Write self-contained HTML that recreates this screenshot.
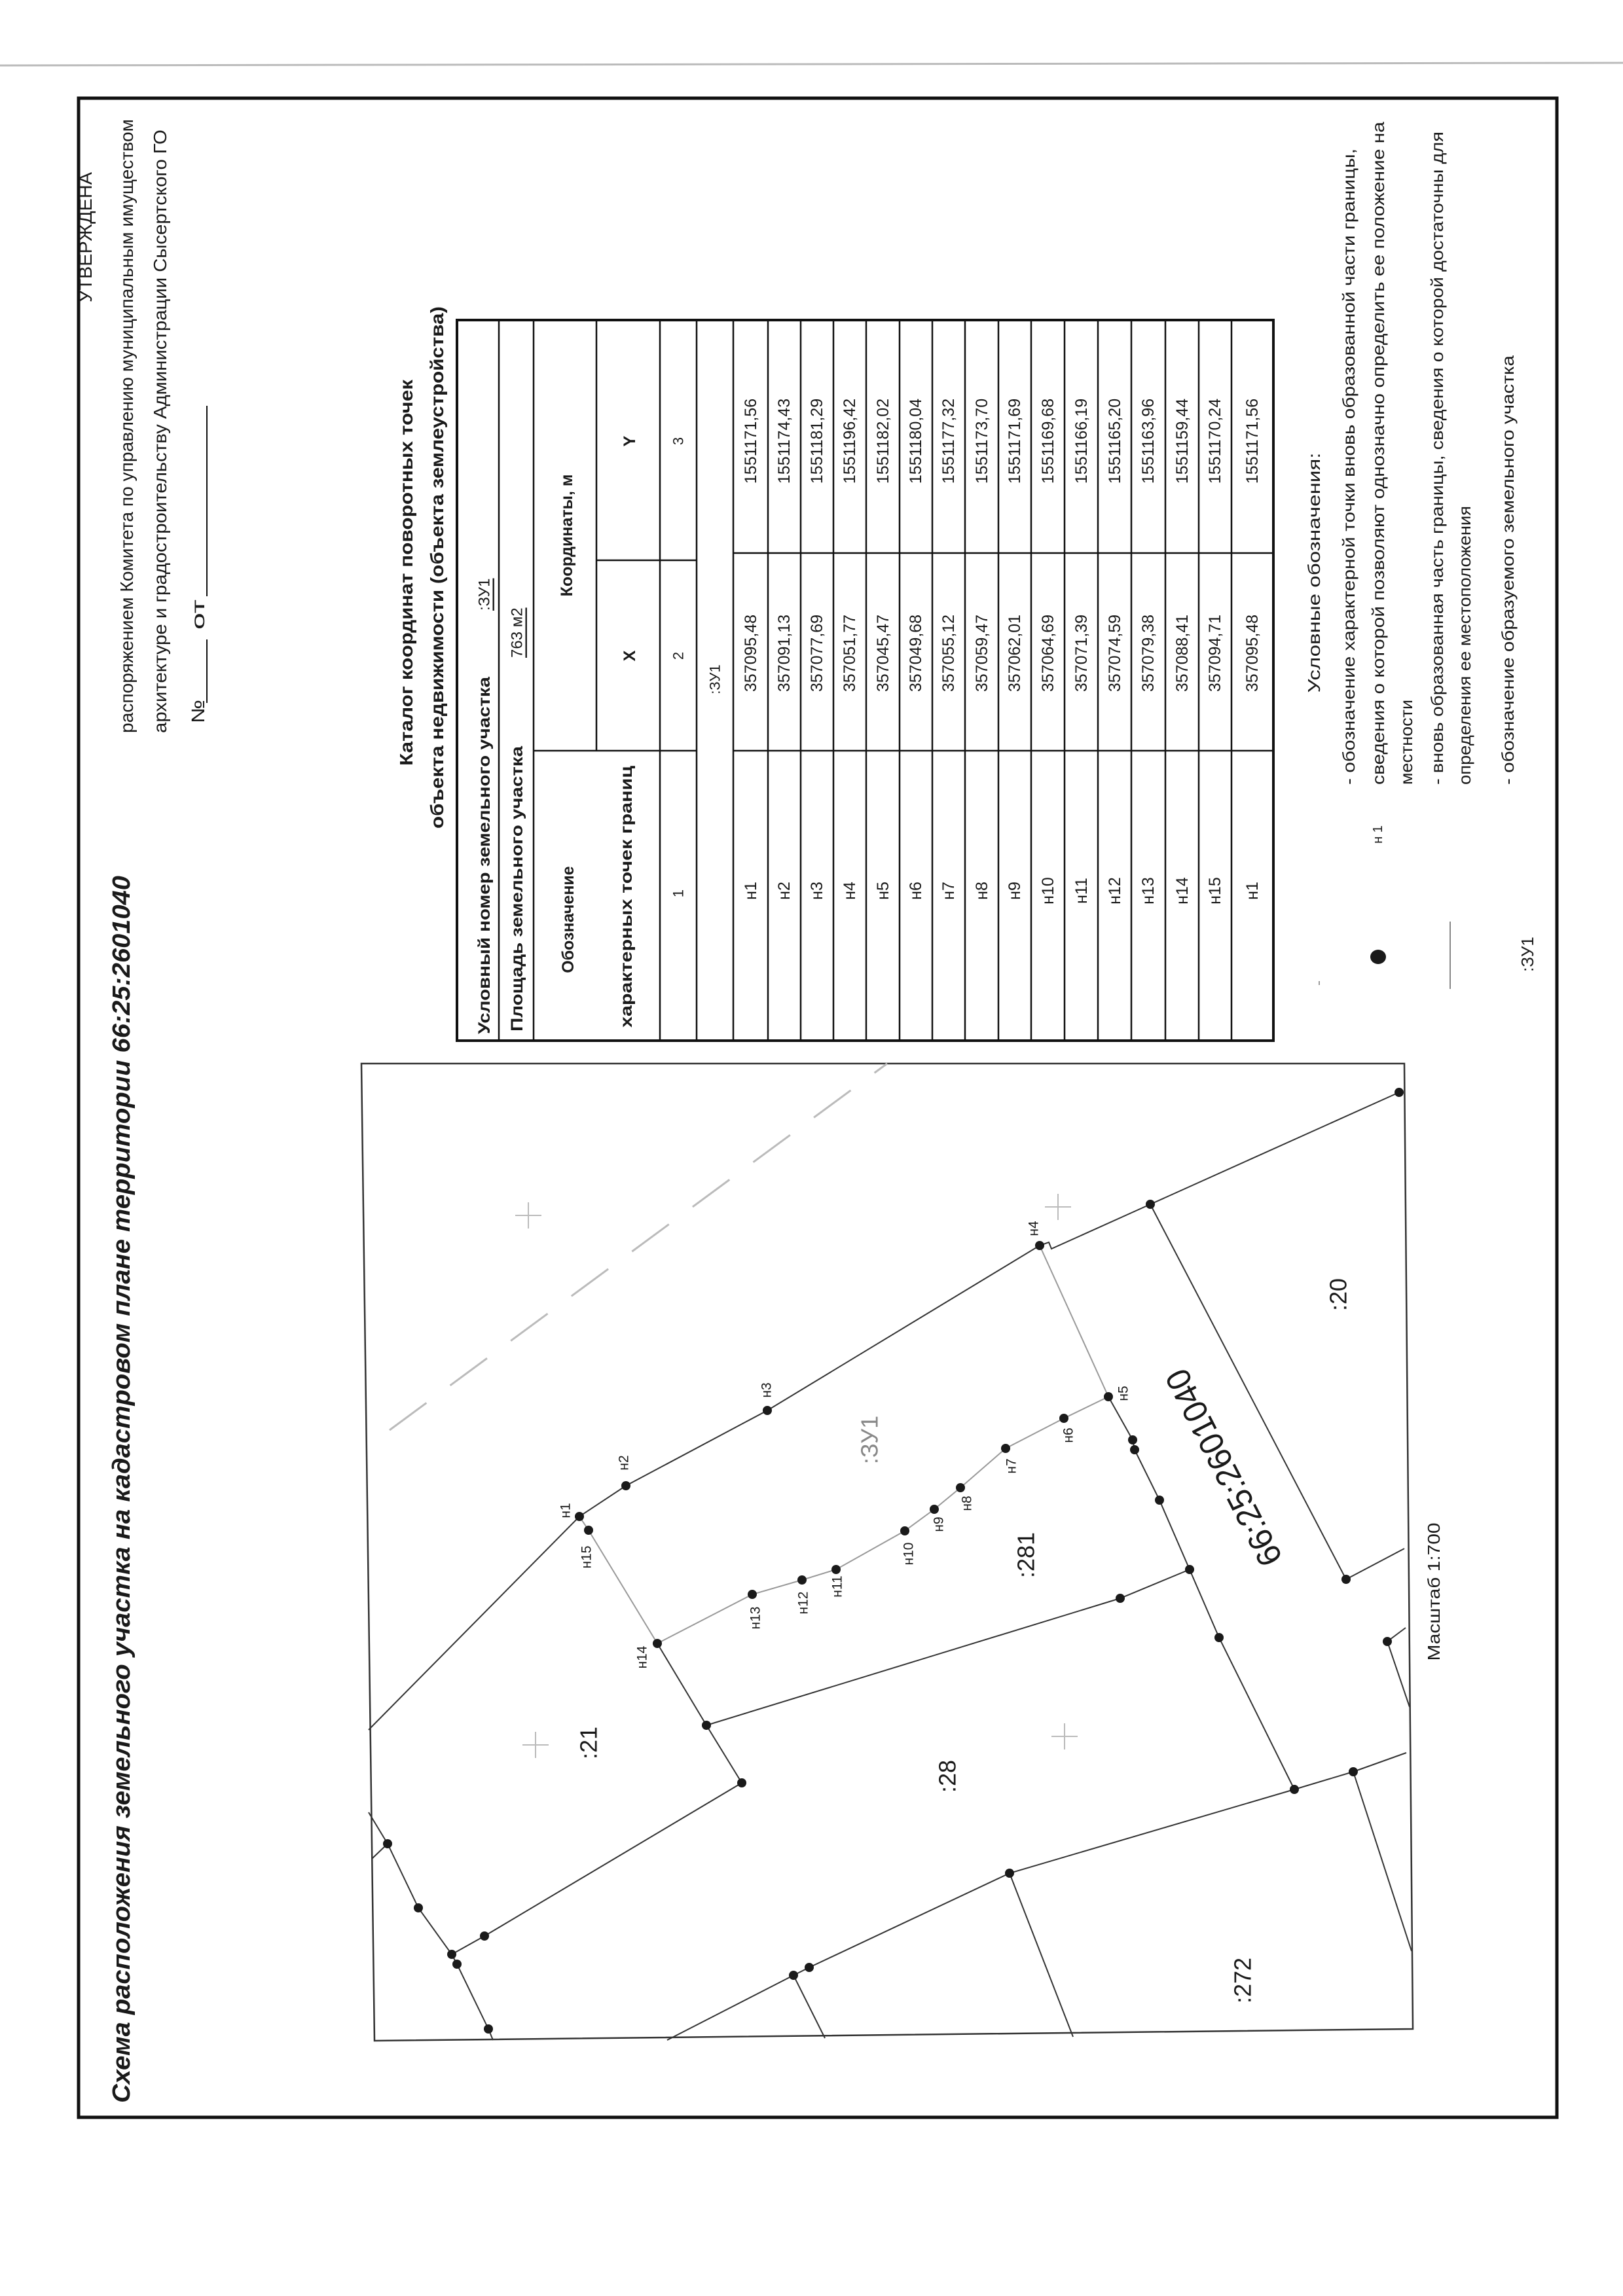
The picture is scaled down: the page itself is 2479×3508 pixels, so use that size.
<!DOCTYPE html>
<html><head><meta charset="utf-8"><style>
html,body{margin:0;padding:0;background:#fff}
svg{display:block}
text{font-family:"Liberation Sans",sans-serif;fill:#1a1a1a}
</style></head><body>
<svg width="2479" height="3508" viewBox="0 0 2479 3508" xmlns="http://www.w3.org/2000/svg">
<rect width="2479" height="3508" fill="#fff"/>
<line x1="0" y1="100" x2="2479" y2="96" stroke="#bbb" stroke-width="3"/>
<rect x="120" y="150" width="2258" height="3085" fill="none" stroke="#111" stroke-width="5"/>

<g font-size="28" text-anchor="start">
<text transform="translate(140,462) rotate(-90)" textLength="199" lengthAdjust="spacingAndGlyphs">УТВЕРЖДЕНА</text>
<text transform="translate(203,1120) rotate(-90)" textLength="938" lengthAdjust="spacingAndGlyphs">распоряжением Комитета по управлению муниципальным имуществом</text>
<text transform="translate(254,1120) rotate(-90)" textLength="922" lengthAdjust="spacingAndGlyphs">архитектуре и градостроительству Администрации Сысертского ГО</text>
<text transform="translate(312,1105) rotate(-90)" textLength="36" lengthAdjust="spacingAndGlyphs">№</text>
<text transform="translate(312,962) rotate(-90)" textLength="46" lengthAdjust="spacingAndGlyphs">от</text>
</g>
<line x1="316" y1="1074" x2="316" y2="977" stroke="#111" stroke-width="2"/>
<line x1="316" y1="911" x2="316" y2="620" stroke="#111" stroke-width="2"/>

<text transform="translate(198,3213) rotate(-90)" font-size="38" font-weight="bold" font-style="italic" textLength="1875" lengthAdjust="spacingAndGlyphs">Схема расположения земельного участка на кадастровом плане территории 66:25:2601040</text>

<g font-size="28" font-weight="bold">
<text transform="translate(630,1170) rotate(-90)" textLength="590" lengthAdjust="spacingAndGlyphs">Каталог координат поворотных точек</text>
<text transform="translate(677,1266) rotate(-90)" textLength="798" lengthAdjust="spacingAndGlyphs">объекта недвижимости (объекта землеустройства)</text>
</g>

<g stroke="#111" fill="none">
<rect x="698" y="489" width="1247" height="1101" stroke-width="4"/>
<g stroke-width="2.5">
<line x1="762" y1="489" x2="762" y2="1590"/>
<line x1="815" y1="489" x2="815" y2="1590"/>
<line x1="1008" y1="489" x2="1008" y2="1590"/>
<line x1="1064" y1="489" x2="1064" y2="1590"/>
<line x1="1120" y1="489" x2="1120" y2="1590"/>
<line x1="911" y1="489" x2="911" y2="1147"/>
<line x1="815" y1="1147" x2="1064" y2="1147"/>
<line x1="911" y1="856" x2="1064" y2="856"/>
<line x1="1120" y1="1147" x2="1945" y2="1147"/>
<line x1="1120" y1="845" x2="1945" y2="845"/>
<line x1="1173" y1="489" x2="1173" y2="1590"/>
<line x1="1223" y1="489" x2="1223" y2="1590"/>
<line x1="1273" y1="489" x2="1273" y2="1590"/>
<line x1="1323" y1="489" x2="1323" y2="1590"/>
<line x1="1374" y1="489" x2="1374" y2="1590"/>
<line x1="1424" y1="489" x2="1424" y2="1590"/>
<line x1="1474" y1="489" x2="1474" y2="1590"/>
<line x1="1525" y1="489" x2="1525" y2="1590"/>
<line x1="1575" y1="489" x2="1575" y2="1590"/>
<line x1="1626" y1="489" x2="1626" y2="1590"/>
<line x1="1677" y1="489" x2="1677" y2="1590"/>
<line x1="1728" y1="489" x2="1728" y2="1590"/>
<line x1="1780" y1="489" x2="1780" y2="1590"/>
<line x1="1831" y1="489" x2="1831" y2="1590"/>
<line x1="1881" y1="489" x2="1881" y2="1590"/>
</g></g>
<g font-size="25" font-weight="bold">
<text transform="translate(740,1580) rotate(-90)" dominant-baseline="central" textLength="546" lengthAdjust="spacingAndGlyphs">Условный номер земельного участка</text>
<text transform="translate(790,1576) rotate(-90)" dominant-baseline="central" textLength="436" lengthAdjust="spacingAndGlyphs">Площадь земельного участка</text>
<text transform="translate(868,1405) rotate(-90)" dominant-baseline="central" text-anchor="middle">Обозначение</text>
<text transform="translate(957,1370) rotate(-90)" dominant-baseline="central" text-anchor="middle" textLength="400" lengthAdjust="spacingAndGlyphs">характерных точек границ</text>
<text transform="translate(866,818) rotate(-90)" dominant-baseline="central" text-anchor="middle">Координаты, м</text>
<text transform="translate(962,1002) rotate(-90)" dominant-baseline="central" text-anchor="middle">X</text>
<text transform="translate(962,674) rotate(-90)" dominant-baseline="central" text-anchor="middle">Y</text>
</g>
<g font-size="24">
<text transform="translate(740,933) rotate(-90)" dominant-baseline="central" text-decoration="underline">:ЗУ1</text>
<text transform="translate(790,1005) rotate(-90)" dominant-baseline="central" text-decoration="underline">763 м2</text>
</g>
<g font-size="22" text-anchor="middle">
<text transform="translate(1036,1365) rotate(-90)" dominant-baseline="central">1</text>
<text transform="translate(1036,1002) rotate(-90)" dominant-baseline="central">2</text>
<text transform="translate(1036,674) rotate(-90)" dominant-baseline="central">3</text>
<text transform="translate(1092,1038) rotate(-90)" dominant-baseline="central">:ЗУ1</text>
</g>
<g font-size="25" text-anchor="middle">
<g transform="translate(1147,0)"><text transform="translate(0,1361) rotate(-90)" dominant-baseline="central">н1</text><text transform="translate(0,998) rotate(-90)" dominant-baseline="central">357095,48</text><text transform="translate(0,674) rotate(-90)" dominant-baseline="central">1551171,56</text></g>
<g transform="translate(1198,0)"><text transform="translate(0,1361) rotate(-90)" dominant-baseline="central">н2</text><text transform="translate(0,998) rotate(-90)" dominant-baseline="central">357091,13</text><text transform="translate(0,674) rotate(-90)" dominant-baseline="central">1551174,43</text></g>
<g transform="translate(1248,0)"><text transform="translate(0,1361) rotate(-90)" dominant-baseline="central">н3</text><text transform="translate(0,998) rotate(-90)" dominant-baseline="central">357077,69</text><text transform="translate(0,674) rotate(-90)" dominant-baseline="central">1551181,29</text></g>
<g transform="translate(1298,0)"><text transform="translate(0,1361) rotate(-90)" dominant-baseline="central">н4</text><text transform="translate(0,998) rotate(-90)" dominant-baseline="central">357051,77</text><text transform="translate(0,674) rotate(-90)" dominant-baseline="central">1551196,42</text></g>
<g transform="translate(1349,0)"><text transform="translate(0,1361) rotate(-90)" dominant-baseline="central">н5</text><text transform="translate(0,998) rotate(-90)" dominant-baseline="central">357045,47</text><text transform="translate(0,674) rotate(-90)" dominant-baseline="central">1551182,02</text></g>
<g transform="translate(1399,0)"><text transform="translate(0,1361) rotate(-90)" dominant-baseline="central">н6</text><text transform="translate(0,998) rotate(-90)" dominant-baseline="central">357049,68</text><text transform="translate(0,674) rotate(-90)" dominant-baseline="central">1551180,04</text></g>
<g transform="translate(1449,0)"><text transform="translate(0,1361) rotate(-90)" dominant-baseline="central">н7</text><text transform="translate(0,998) rotate(-90)" dominant-baseline="central">357055,12</text><text transform="translate(0,674) rotate(-90)" dominant-baseline="central">1551177,32</text></g>
<g transform="translate(1500,0)"><text transform="translate(0,1361) rotate(-90)" dominant-baseline="central">н8</text><text transform="translate(0,998) rotate(-90)" dominant-baseline="central">357059,47</text><text transform="translate(0,674) rotate(-90)" dominant-baseline="central">1551173,70</text></g>
<g transform="translate(1550,0)"><text transform="translate(0,1361) rotate(-90)" dominant-baseline="central">н9</text><text transform="translate(0,998) rotate(-90)" dominant-baseline="central">357062,01</text><text transform="translate(0,674) rotate(-90)" dominant-baseline="central">1551171,69</text></g>
<g transform="translate(1601,0)"><text transform="translate(0,1361) rotate(-90)" dominant-baseline="central">н10</text><text transform="translate(0,998) rotate(-90)" dominant-baseline="central">357064,69</text><text transform="translate(0,674) rotate(-90)" dominant-baseline="central">1551169,68</text></g>
<g transform="translate(1652,0)"><text transform="translate(0,1361) rotate(-90)" dominant-baseline="central">н11</text><text transform="translate(0,998) rotate(-90)" dominant-baseline="central">357071,39</text><text transform="translate(0,674) rotate(-90)" dominant-baseline="central">1551166,19</text></g>
<g transform="translate(1703,0)"><text transform="translate(0,1361) rotate(-90)" dominant-baseline="central">н12</text><text transform="translate(0,998) rotate(-90)" dominant-baseline="central">357074,59</text><text transform="translate(0,674) rotate(-90)" dominant-baseline="central">1551165,20</text></g>
<g transform="translate(1754,0)"><text transform="translate(0,1361) rotate(-90)" dominant-baseline="central">н13</text><text transform="translate(0,998) rotate(-90)" dominant-baseline="central">357079,38</text><text transform="translate(0,674) rotate(-90)" dominant-baseline="central">1551163,96</text></g>
<g transform="translate(1806,0)"><text transform="translate(0,1361) rotate(-90)" dominant-baseline="central">н14</text><text transform="translate(0,998) rotate(-90)" dominant-baseline="central">357088,41</text><text transform="translate(0,674) rotate(-90)" dominant-baseline="central">1551159,44</text></g>
<g transform="translate(1856,0)"><text transform="translate(0,1361) rotate(-90)" dominant-baseline="central">н15</text><text transform="translate(0,998) rotate(-90)" dominant-baseline="central">357094,71</text><text transform="translate(0,674) rotate(-90)" dominant-baseline="central">1551170,24</text></g>
<g transform="translate(1913,0)"><text transform="translate(0,1361) rotate(-90)" dominant-baseline="central">н1</text><text transform="translate(0,998) rotate(-90)" dominant-baseline="central">357095,48</text><text transform="translate(0,674) rotate(-90)" dominant-baseline="central">1551171,56</text></g>
</g>

<g font-size="26">
<text transform="translate(2007,875) rotate(-90)" dominant-baseline="central" text-anchor="middle" textLength="367" lengthAdjust="spacingAndGlyphs">Условные обозначения:</text>
<text transform="translate(2060,1199) rotate(-90)" dominant-baseline="central" textLength="972" lengthAdjust="spacingAndGlyphs">- обозначение характерной точки вновь образованной части границы,</text>
<text transform="translate(2105,1199) rotate(-90)" dominant-baseline="central" textLength="1013" lengthAdjust="spacingAndGlyphs">сведения о которой позволяют однозначно определить ее положение на</text>
<text transform="translate(2148,1199) rotate(-90)" dominant-baseline="central" textLength="130" lengthAdjust="spacingAndGlyphs">местности</text>
<text transform="translate(2195,1199) rotate(-90)" dominant-baseline="central" textLength="998" lengthAdjust="spacingAndGlyphs">- вновь образованная часть границы, сведения о которой достаточны для</text>
<text transform="translate(2237,1199) rotate(-90)" dominant-baseline="central" textLength="426" lengthAdjust="spacingAndGlyphs">определения ее местоположения</text>
<text transform="translate(2303,1199) rotate(-90)" dominant-baseline="central" textLength="656" lengthAdjust="spacingAndGlyphs">- обозначение образуемого земельного участка</text>
<text transform="translate(2333,1458) rotate(-90)" dominant-baseline="central" text-anchor="middle">:ЗУ1</text>
</g>
<text transform="translate(2105,1275) rotate(-90)" font-size="20" dominant-baseline="central" text-anchor="middle">н 1</text>
<ellipse cx="2105" cy="1462" rx="12" ry="11" fill="#1a1a1a"/>
<line x1="2215" y1="1408" x2="2215" y2="1511" stroke="#888" stroke-width="2"/>
<line x1="2015" y1="1499" x2="2015" y2="1505" stroke="#999" stroke-width="2"/>

<polygon points="552,1625 2145,1625 2158,3100 572,3118" fill="none" stroke="#333" stroke-width="2.5"/>
<g stroke="#bbb" stroke-width="2">
<path d="M787,1857h40M807,1837v40M1596,1844h40M1616,1824v40M798,2666h40M818,2646v40M1606,2653h40M1626,2633v40"/>
</g>
<line x1="595" y1="2185" x2="1355" y2="1625" stroke="#bbb" stroke-width="3" stroke-dasharray="70,45"/>
<g stroke="#333" stroke-width="2" fill="none">
<polyline points="563,2643 885,2317 956,2270 1172,2155 1588,1903 1602,1898 1606,1908 1757,1840 2137,1669"/>
<polyline points="1693,2134 1730,2200 1733,2215 1771,2292 1817,2398 1862,2502 1977,2734"/>
<polyline points="1004,2511 1079,2636 1133,2724 740,2958 690,2986"/>
<polyline points="1079,2636 1711,2442 1817,2398"/>
<polyline points="563,2769 592,2817 639,2915 690,2986 698,3001 746,3100 753,3117"/>
<polyline points="568,2840 592,2817"/>
<polyline points="1757,1840 2056,2413 2145,2366"/>
<polyline points="2147,2487 2119,2508 2153,2608"/>
<polyline points="1019,3117 1212,3018 1236,3006 1542,2862 1977,2734 2067,2707 2148,2678"/>
<polyline points="2067,2707 2156,2981"/>
<polyline points="1542,2862 1639,3112"/>
<polyline points="1212,3018 1260,3114"/>
</g>
<g stroke="#999" stroke-width="2" fill="none">
<polyline points="885,2317 899,2338 1004,2511"/>
<polyline points="1004,2511 1149,2436 1225,2414 1277,2398 1382,2339 1427,2306 1467,2273 1536,2213 1625,2167 1693,2134"/>
<polyline points="1588,1903 1693,2134"/>
</g>
<g fill="#1a1a1a">
<circle cx="885" cy="2317" r="7"/><circle cx="899" cy="2338" r="7"/><circle cx="956" cy="2270" r="7"/><circle cx="1172" cy="2155" r="7"/><circle cx="1588" cy="1903" r="7"/><circle cx="1693" cy="2134" r="7"/><circle cx="1625" cy="2167" r="7"/><circle cx="1536" cy="2213" r="7"/><circle cx="1467" cy="2273" r="7"/><circle cx="1427" cy="2306" r="7"/><circle cx="1382" cy="2339" r="7"/><circle cx="1277" cy="2398" r="7"/><circle cx="1225" cy="2414" r="7"/><circle cx="1149" cy="2436" r="7"/><circle cx="1004" cy="2511" r="7"/>
<circle cx="1079" cy="2636" r="7"/><circle cx="1133" cy="2724" r="7"/><circle cx="1711" cy="2442" r="7"/><circle cx="1817" cy="2398" r="7"/><circle cx="1730" cy="2200" r="7"/><circle cx="1733" cy="2215" r="7"/><circle cx="1771" cy="2292" r="7"/><circle cx="1862" cy="2502" r="7"/><circle cx="1977" cy="2734" r="7"/><circle cx="2067" cy="2707" r="7"/><circle cx="2056" cy="2413" r="7"/><circle cx="2119" cy="2508" r="7"/><circle cx="1757" cy="1840" r="7"/><circle cx="2137" cy="1669" r="7"/><circle cx="1542" cy="2862" r="7"/><circle cx="1212" cy="3018" r="7"/><circle cx="1236" cy="3006" r="7"/><circle cx="740" cy="2958" r="7"/><circle cx="690" cy="2986" r="7"/><circle cx="698" cy="3001" r="7"/><circle cx="639" cy="2915" r="7"/><circle cx="592" cy="2817" r="7"/><circle cx="746" cy="3100" r="7"/>
</g>
<g font-size="21" text-anchor="middle">
<text transform="translate(864,2308) rotate(-90)" dominant-baseline="central">н1</text>
<text transform="translate(953,2235) rotate(-90)" dominant-baseline="central">н2</text>
<text transform="translate(1171,2124) rotate(-90)" dominant-baseline="central">н3</text>
<text transform="translate(1579,1877) rotate(-90)" dominant-baseline="central">н4</text>
<text transform="translate(1716,2129) rotate(-90)" dominant-baseline="central">н5</text>
<text transform="translate(1632,2193) rotate(-90)" dominant-baseline="central">н6</text>
<text transform="translate(1545,2240) rotate(-90)" dominant-baseline="central">н7</text>
<text transform="translate(1477,2297) rotate(-90)" dominant-baseline="central">н8</text>
<text transform="translate(1434,2329) rotate(-90)" dominant-baseline="central">н9</text>
<text transform="translate(1388,2374) rotate(-90)" dominant-baseline="central">н10</text>
<text transform="translate(1279,2424) rotate(-90)" dominant-baseline="central">н11</text>
<text transform="translate(1227,2449) rotate(-90)" dominant-baseline="central">н12</text>
<text transform="translate(1154,2472) rotate(-90)" dominant-baseline="central">н13</text>
<text transform="translate(981,2532) rotate(-90)" dominant-baseline="central">н14</text>
<text transform="translate(896,2379) rotate(-90)" dominant-baseline="central">н15</text>
</g>
<g font-size="36" text-anchor="middle">
<text transform="translate(1328,2200) rotate(-90)" dominant-baseline="central" style="fill:#888">:ЗУ1</text>
<text transform="translate(1567,2376) rotate(-90)" dominant-baseline="central">:281</text>
<text transform="translate(899,2663) rotate(-90)" dominant-baseline="central">:21</text>
<text transform="translate(1447,2714) rotate(-90)" dominant-baseline="central">:28</text>
<text transform="translate(2044,1978) rotate(-90)" dominant-baseline="central">:20</text>
<text transform="translate(1898,3026) rotate(-90)" dominant-baseline="central">:272</text>
</g>
<text transform="translate(1870,2242) rotate(-117)" font-size="52" text-anchor="middle" dominant-baseline="central" textLength="330" lengthAdjust="spacingAndGlyphs">66:25:2601040</text>
<text transform="translate(2190,2432) rotate(-90)" font-size="26" text-anchor="middle" dominant-baseline="central" textLength="211" lengthAdjust="spacingAndGlyphs">Масштаб 1:700</text>
</svg>
</body></html>
